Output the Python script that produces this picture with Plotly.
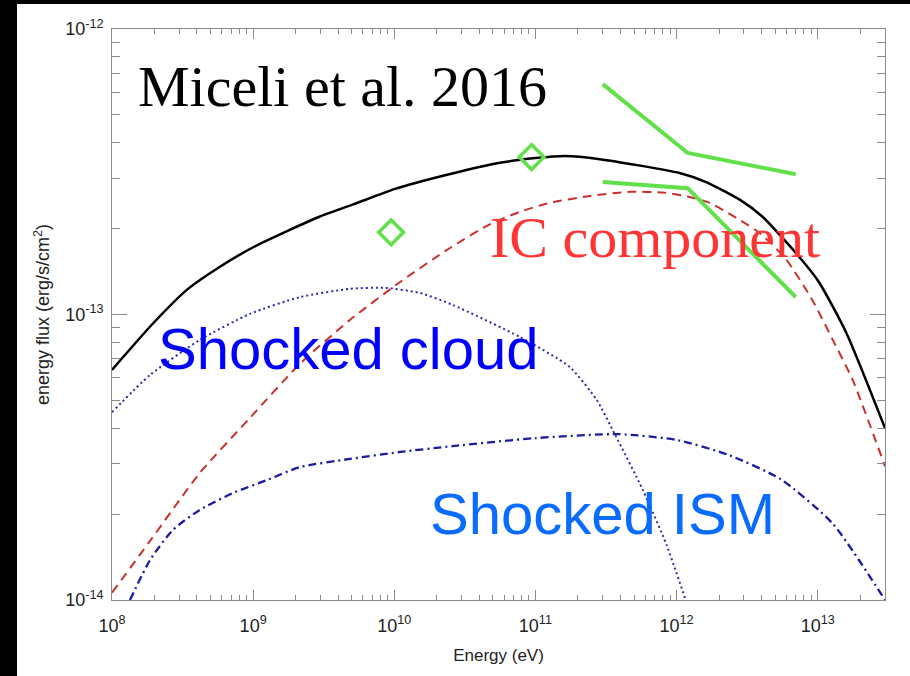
import numpy as np
import plotly.graph_objects as go

# ---------------- data ----------------
total_E = [1e8, 1.95e8, 3.39e8, 5.82e8, 1e9, 1.74e9, 2.95e9, 5.13e9, 1e10, 2.45e10,
           5.62e10, 1e11, 1.62e11, 2.86e11, 1.05e12, 1.62e12, 2.82e12, 4.07e12,
           7.41e12, 1.02e13, 1.6e13, 3e13]
total_F = [6.4e-14, 9.3e-14, 1.22e-13, 1.47e-13, 1.72e-13, 1.96e-13, 2.2e-13, 2.43e-13,
           2.75e-13, 3.1e-13, 3.4e-13, 3.53e-13, 3.59e-13, 3.5e-13, 3.13e-13, 2.91e-13,
           2.52e-13, 2.2e-13, 1.59e-13, 1.3e-13, 8.6e-14, 4.0e-14]

ic_E = [1e8, 1.86e8, 4.2e8, 9.48e8, 2.14e9, 4.85e9, 1.1e10, 2.48e10, 4.75e10, 7.77e10,
        1.26e11, 2.43e11, 4.67e11, 8.25e11, 1.24e12, 1.72e12, 3.88e12, 6.03e12, 9.2e12,
        1.28e13, 1.77e13, 3e13]
ic_F = [1.06e-14, 1.61e-14, 2.79e-14, 4.34e-14, 6.71e-14, 9.57e-14, 1.30e-13, 1.71e-13,
        2.07e-13, 2.29e-13, 2.46e-13, 2.60e-13, 2.69e-13, 2.67e-13, 2.58e-13, 2.46e-13,
        1.93e-13, 1.55e-13, 1.12e-13, 8.15e-14, 5.9e-14, 2.94e-14]

cloud_E = [1e8, 1.86e8, 4.2e8, 9.48e8, 2.14e9, 4.85e9, 8.57e9, 1.52e10, 2.6e10, 7.77e10,
           1.75e11, 2.72e11, 3.65e11, 5.77e11, 8.5e11, 1.16e12]
cloud_F = [4.55e-14, 6.14e-14, 8.15e-14, 1.005e-13, 1.15e-13, 1.23e-13, 1.24e-13, 1.19e-13,
           1.08e-13, 8.34e-14, 6.55e-14, 5.02e-14, 3.81e-14, 2.43e-14, 1.56e-14, 1.0e-14]

ism_E = [1.34e8, 1.86e8, 2.7e8, 4.2e8, 7.2e8, 1.25e9, 2.14e9, 4.85e9, 1.1e10, 2.6e10,
         1e11, 3.9e11, 1.02e12, 2.34e12, 5.47e12, 1.28e13, 3e13]
ism_F = [1.0e-14, 1.38e-14, 1.76e-14, 2.07e-14, 2.37e-14, 2.63e-14, 2.92e-14, 3.12e-14,
         3.30e-14, 3.46e-14, 3.69e-14, 3.81e-14, 3.63e-14, 3.22e-14, 2.65e-14, 1.85e-14, 1.0e-14]

hess_up_E = [3e11, 1.2e12, 7e12]
hess_up_F = [6.41e-13, 3.68e-13, 3.1e-13]
hess_lo_E = [3e11, 1.2e12, 7e12]
hess_lo_F = [2.91e-13, 2.77e-13, 1.15e-13]

fermi_E = [9.5e9, 9.4e10]
fermi_F = [1.94e-13, 3.56e-13]

x_tickvals = [1e8, 1e9, 1e10, 1e11, 1e12, 1e13]
x_ticktext = ["10<sup>8</sup>", "10<sup>9</sup>", "10<sup>10</sup>", "10<sup>11</sup>",
              "10<sup>12</sup>", "10<sup>13</sup>"]
y_tickvals = [1e-14, 1e-13, 1e-12]
y_ticktext = ["10<sup>-14</sup>", "10<sup>-13</sup>", "10<sup>-12</sup>"]

x_minor = [m * 10.0 ** d for d in range(8, 14) for m in range(2, 10)]
y_minor = [m * 10.0 ** d for d in range(-14, -12) for m in range(2, 10)]

# ---------------- figure ----------------
GREEN = "#62e04a"
SM = 0.6
fig = go.Figure()

fig.add_trace(go.Scatter(x=cloud_E, y=cloud_F, mode="lines",
                         line=dict(color="#2a2aa8", width=2, dash="2px,3px", shape="spline", smoothing=SM)))
fig.add_trace(go.Scatter(x=ism_E, y=ism_F, mode="lines",
                         line=dict(color="#1c1ca0", width=2.3, dash="8px,4px,2px,4px", shape="spline", smoothing=SM)))
fig.add_trace(go.Scatter(x=ic_E, y=ic_F, mode="lines",
                         line=dict(color="#c8302c", width=2, dash="9px,6px", shape="spline", smoothing=SM)))
fig.add_trace(go.Scatter(x=total_E, y=total_F, mode="lines",
                         line=dict(color="black", width=2.5, shape="spline", smoothing=SM)))
fig.add_trace(go.Scatter(x=hess_up_E, y=hess_up_F, mode="lines",
                         line=dict(color=GREEN, width=4)))
fig.add_trace(go.Scatter(x=hess_lo_E, y=hess_lo_F, mode="lines",
                         line=dict(color=GREEN, width=4)))
fig.add_trace(go.Scatter(x=fermi_E, y=fermi_F, mode="markers",
                         marker=dict(symbol="diamond-open", size=19, color=GREEN,
                                     line=dict(color=GREEN, width=3.5))))

axis_common = dict(
    type="log", showline=True, linecolor="#8a8a8a", linewidth=1, mirror="allticks",
    ticks="inside", tickcolor="#8a8a8a", tickwidth=1, showgrid=False, zeroline=False,
    tickfont=dict(family="Liberation Sans, Arial", size=18, color="#222"),
    tickmode="array",
)

fig.update_xaxes(**axis_common, range=[8, np.log10(3e13)], tickvals=x_tickvals,
                 ticktext=x_ticktext, ticklen=10,
                 minor=dict(tickmode="array", tickvals=x_minor, ticks="inside", ticklen=5,
                            tickcolor="#8a8a8a", showgrid=False),
                 title=dict(text="Energy (eV)", font=dict(family="Liberation Sans, Arial", size=17, color="#222"),
                            standoff=14),
                 ticklabelstandoff=9)
fig.update_yaxes(**axis_common, range=[-14, -12], tickvals=y_tickvals,
                 ticktext=y_ticktext, ticklen=15,
                 minor=dict(tickmode="array", tickvals=y_minor, ticks="inside", ticklen=8,
                            tickcolor="#8a8a8a", showgrid=False),
                 title=dict(text="energy flux (erg/s/cm<sup>2</sup>)",
                            font=dict(family="Liberation Sans, Arial", size=18, color="#222"),
                            standoff=10),
                 ticklabelstandoff=4)

W = 885 - 112
H = 600 - 29
def px(x):
    return (x - 112) / W
def py(y):
    return (600 - y) / H

fig.add_shape(type="rect", xref="paper", yref="paper", x0=px(17), x1=1.2, y0=-0.3, y1=py(4),
              fillcolor="white", line=dict(width=0), layer="below")

ann = [
    ("Miceli et al. 2016", 137, 86, "black", "Liberation Serif, Times New Roman"),
    ("IC component", 489, 237, "#ff3535", "Liberation Serif, Times New Roman"),
    ("Shocked cloud", 157, 348, "#0000ff", "Liberation Sans, Arial"),
    ("Shocked ISM", 429, 513, "#0a6cff", "Liberation Sans, Arial"),
]
for text, xx, yy, col, fam in ann:
    fig.add_annotation(text=text, xref="paper", yref="paper", x=px(xx), y=py(yy),
                       xanchor="left", yanchor="middle", showarrow=False,
                       font=dict(family=fam, size=58, color=col), borderpad=0)

fig.update_layout(
    width=910, height=676,
    margin=dict(l=112, r=25, t=29, b=76, pad=0),
    paper_bgcolor="black", plot_bgcolor="white",
    showlegend=False,
)

fig.write_html("out.html")
